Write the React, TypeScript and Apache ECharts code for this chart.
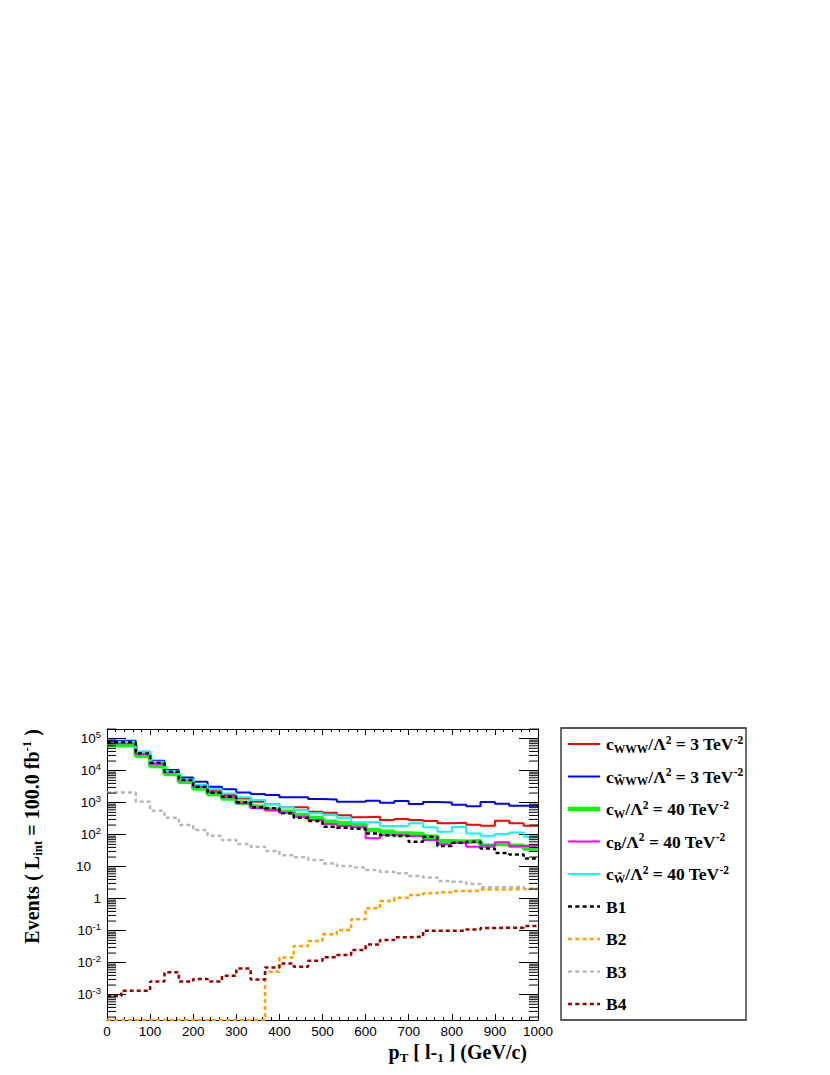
import React, { useEffect, useRef } from 'react';
import * as echarts from 'echarts';

// ---- axis ranges ----
const X_MIN = 0;
const X_MAX = 1000;
const N_BINS = 30;
const Y_MIN = 1.62e-4;
const Y_MAX = 2.01e5;

// ---- series values (30 bins of 33.3 GeV) ----
const cWWW = [71500, 71500, 34800, 17800, 9300, 5370, 3570, 2370, 1740, 1365, 1075, 887, 715, 715, 525,
  487, 402, 348, 365, 287, 309, 287, 267, 226, 237, 205, 191, 274, 226, 191];
const cWtWW = [86600, 86600, 39300, 20500, 10500, 6170, 4530, 3160, 2610, 2100, 1860, 1740, 1470, 1470, 1300,
  1270, 1075, 1075, 1155, 1000, 1128, 908, 1047, 1023, 866, 768, 1047, 933, 806, 806];
const cW = [63100, 63100, 29500, 14000, 7870, 4530, 2800, 1860, 1365, 1000, 750, 617, 525, 412, 324,
  255, 226, 200, 140, 124, 110, 105, 87, 62, 60, 63, 45, 51, 45, 37];
const cB = [71500, 71500, 32400, 16200, 8870, 5130, 3160, 2210, 1470, 955, 665, 590, 487, 365, 287,
  215, 187, 170, 77, 97, 97, 91, 68, 50, 56, 42, 45, 58, 44, 46];
const cWt = [80500, 80500, 38300, 19100, 9770, 5370, 3570, 2610, 1950, 1470, 1210, 887, 715, 590, 464,
  412, 340, 243, 243, 187, 187, 226, 170, 124, 174, 110, 93, 105, 118, 87];
const B1 = [76800, 76800, 34800, 17800, 9330, 5130, 3160, 2040, 1540, 1030, 715, 665, 464, 340, 267,
  178, 165, 154, 110, 97, 91, 60, 87, 44, 56, 60, 37, 27, 24, 18];
// 0 = empty bin (drawn at the axis minimum, as ROOT does on a log axis)
const B2 = [0, 0, 0, 0, 0, 0, 0, 0, 0, 0, 0, 0.0052, 0.0145, 0.033, 0.048,
  0.077, 0.105, 0.23, 0.5, 0.85, 1.07, 1.3, 1.47, 1.58, 1.74, 1.78, 1.95, 1.95, 2.0, 2.1];
const B3 = [2100, 2100, 1075, 563, 340, 200, 140, 93, 68, 51, 42, 31, 23, 19.6, 16.2,
  12.7, 10.5, 9.5, 7.9, 7.0, 6.2, 5.1, 4.6, 3.6, 3.4, 2.9, 2.26, 2.26, 2.37, 2.0];
const B4 = [0.00091, 0.00133, 0.00133, 0.0026, 0.005, 0.0026, 0.0031, 0.0026, 0.0039, 0.0066, 0.003, 0.0071, 0.0095, 0.0075, 0.0115,
  0.0148, 0.0174, 0.025, 0.037, 0.051, 0.062, 0.065, 0.1, 0.1, 0.1, 0.11, 0.121, 0.124, 0.124, 0.14];

const X_TICK_LABELS = ['0', '100', '200', '300', '400', '500', '600', '700', '800', '900', '1000'];

// ---- series styling ----
const SERIES = [
  { key: 'cwww', values: cWWW, color: '#ff0000', width: 2, dashed: false,
    label: '{a|c}{sub|WWW}{a|/Λ}{sup|2}{a| = 3 TeV}{sup|-2}' },
  { key: 'cwtww', values: cWtWW, color: '#0000ff', width: 2, dashed: false,
    label: '{a|c}{sub|W\u0303WW}{a|/Λ}{sup|2}{a| = 3 TeV}{sup|-2}' },
  { key: 'cw', values: cW, color: '#00ff00', width: 4.5, dashed: false,
    label: '{a|c}{sub|W}{a|/Λ}{sup|2}{a| = 40 TeV}{sup|-2}' },
  { key: 'cb', values: cB, color: '#ff00ff', width: 2, dashed: false,
    label: '{a|c}{sub|B}{a|/Λ}{sup|2}{a| = 40 TeV}{sup|-2}' },
  { key: 'cwt', values: cWt, color: '#00ffff', width: 2, dashed: false,
    label: '{a|c}{sub|W\u0303}{a|/Λ}{sup|2}{a| = 40 TeV}{sup|-2}' },
  { key: 'B1', values: B1, color: '#000000', width: 2.5, dashed: true, label: '{a|B1}' },
  { key: 'B2', values: B2, color: '#ffa000', width: 2.5, dashed: true, label: '{a|B2}' },
  { key: 'B3', values: B3, color: '#b8b8b8', width: 2.5, dashed: true, label: '{a|B3}' },
  { key: 'B4', values: B4, color: '#990000', width: 2.5, dashed: true, label: '{a|B4}' },
];

const DASH = [4, 3];

// layout
const GRID = { left: 107, top: 729, width: 431, height: 291 };
const LEG = { x: 561, y: 728, w: 185, h: 292, firstY: 744, step: 32.5, lineX0: 568, lineX1: 600, textX: 606 };

const SANS = '"Liberation Sans", Arial, Helvetica, sans-serif';
const SERIF = '"Liberation Serif", "Times New Roman", serif';

function binEdge(i: number) {
  return X_MIN + (i * (X_MAX - X_MIN)) / N_BINS;
}

function histData(values: number[]) {
  const pts: number[][] = values.map((v, i) => [binEdge(i), v > 0 ? v : Y_MIN]);
  const last = values[values.length - 1];
  pts.push([X_MAX, last > 0 ? last : Y_MIN]);
  return pts;
}

function minorLogTicks() {
  const out: number[] = [];
  for (let n = -5; n <= 6; n++) {
    for (let k = 2; k <= 9; k++) {
      const v = k * Math.pow(10, n);
      if (v > Y_MIN && v < Y_MAX) out.push(v);
    }
  }
  return out;
}

function richSet(size: number, lh: number, subSize: number, shift: number) {
  const base = { fontFamily: SERIF, fontWeight: 'bold' as const, color: '#000' };
  return {
    a: { ...base, fontSize: size, lineHeight: lh },
    sub: { ...base, fontSize: subSize, lineHeight: subSize, padding: [shift, 0, 0, 0] },
    sup: { ...base, fontSize: subSize, lineHeight: subSize, padding: [0, 0, shift, 0] },
  };
}

export default function App() {
  const ref = useRef<HTMLDivElement>(null);

  useEffect(() => {
    if (!ref.current) return;
    const chart = echarts.init(ref.current, undefined, { renderer: 'svg' });

    const axisLineStyle = { color: '#000', width: 1 };

    const yLabelFormatter = (value: number) => {
      const lg = Math.log10(value);
      const e = Math.round(lg);
      if (Math.abs(lg - e) > 0.01) return '';
      if (e === 0) return '{b|1}';
      if (e === 1) return '{t|10}';
      return `{b|10}{s|${e}}`;
    };

    const yAxisBase = {
      type: 'log' as const,
      logBase: 10,
      min: Y_MIN,
      max: Y_MAX,
      splitNumber: 10,
      axisLine: { show: true, onZero: false, lineStyle: axisLineStyle },
      axisTick: { show: true, inside: true, length: 19, lineStyle: axisLineStyle },
      splitLine: { show: false },
      minorTick: { show: false },
      minorSplitLine: { show: false },
    };

    const xAxisBase = {
      type: 'value' as const,
      min: X_MIN,
      max: X_MAX,
      interval: 100,
      axisLine: { show: true, onZero: false, lineStyle: axisLineStyle },
      axisTick: { show: true, inside: true, length: 6, lineStyle: axisLineStyle },
      minorTick: { show: true, splitNumber: 5, length: 3, lineStyle: axisLineStyle },
      splitLine: { show: false },
      minorSplitLine: { show: false },
    };

    const histSeries = SERIES.map((s) => ({
      name: s.key,
      type: 'line' as const,
      step: 'end' as const,
      data: histData(s.values),
      symbol: 'none',
      showSymbol: false,
      color: s.color,
      lineStyle: { color: s.color, width: s.width, type: s.dashed ? DASH : 'solid' },
      clip: true,
      silent: true,
      animation: false,
      xAxisIndex: 0,
      yAxisIndex: 0,
    }));

    const minorSeries = {
      type: 'custom' as const,
      silent: true,
      xAxisIndex: 0,
      yAxisIndex: 0,
      z: 5,
      data: minorLogTicks().map((v) => [X_MIN, v]),
      renderItem: (_params: any, api: any) => {
        const v = api.value(1);
        const p0 = api.coord([X_MIN, v]);
        const p1 = api.coord([X_MAX, v]);
        return {
          type: 'group',
          children: [
            { type: 'line', shape: { x1: p0[0], y1: p0[1], x2: p0[0] + 9, y2: p0[1] }, style: { stroke: '#000', lineWidth: 1 } },
            { type: 'line', shape: { x1: p1[0] - 9, y1: p1[1], x2: p1[0], y2: p1[1] }, style: { stroke: '#000', lineWidth: 1 } },
          ],
        };
      },
    };

    const legendRich = richSet(17.5, 22, 11.5, 9);
    const titleRich = richSet(20, 26, 13, 11);

    const legendGraphics: any[] = [
      {
        type: 'rect',
        shape: { x: LEG.x, y: LEG.y, width: LEG.w, height: LEG.h },
        style: { fill: '#fff', stroke: '#222', lineWidth: 1.3 },
        z: 1,
      },
    ];
    SERIES.forEach((s, i) => {
      const y = LEG.firstY + i * LEG.step;
      legendGraphics.push({
        type: 'line',
        shape: { x1: LEG.lineX0, y1: y, x2: LEG.lineX1, y2: y },
        style: { stroke: s.color, lineWidth: s.width, lineDash: s.dashed ? [4, 3.3] : null },
        z: 2,
      });
      legendGraphics.push({
        type: 'text',
        x: LEG.textX,
        y,
        style: { text: s.label, rich: legendRich, align: 'left', verticalAlign: 'middle', fill: '#000' },
        z: 2,
      });
    });

    const titleGraphics = [
      {
        type: 'text',
        x: 527,
        y: 1052,
        style: {
          text: '{a|p}{sub|T}{a| [ l-}{sub|1}{a| ] (GeV/c)}',
          rich: titleRich,
          align: 'right',
          verticalAlign: 'middle',
          fill: '#000',
        },
      },
      {
        type: 'text',
        x: 32,
        y: 729,
        rotation: Math.PI / 2,
        style: {
          text: '{a|Events ( L}{sub|int}{a| = 100.0 fb}{sup|-1}{a| )}',
          rich: titleRich,
          align: 'right',
          verticalAlign: 'middle',
          fill: '#000',
        },
      },
    ];

    chart.setOption({
      animation: false,
      backgroundColor: '#fff',
      grid: { ...GRID, containLabel: false },
      xAxis: [
        {
          ...xAxisBase,
          position: 'bottom',
          axisLabel: {
            show: true,
            margin: 4,
            color: '#000',
            fontFamily: SANS,
            fontSize: 13.5,
            formatter: (v: number) => {
              const idx = Math.round((v - X_MIN) / 100);
              return X_TICK_LABELS[idx] ?? '';
            },
          },
        },
        { ...xAxisBase, position: 'top', axisLabel: { show: false } },
      ],
      yAxis: [
        {
          ...yAxisBase,
          position: 'left',
          axisLabel: {
            show: true,
            margin: 6,
            showMinLabel: false,
            showMaxLabel: false,
            formatter: yLabelFormatter,
            rich: {
              b: { fontFamily: SANS, fontSize: 13.5, lineHeight: 18, color: '#000' },
              t: { fontFamily: SANS, fontSize: 13.5, lineHeight: 18, color: '#000', padding: [0, 10, 0, 0] },
              s: { fontFamily: SANS, fontSize: 9.5, lineHeight: 10, color: '#000', padding: [0, 0, 8, 0] },
            },
          },
        },
        { ...yAxisBase, position: 'right', axisLabel: { show: false } },
      ],
      series: [...histSeries, minorSeries],
      graphic: [...legendGraphics, ...titleGraphics],
    });

    return () => {
      chart.dispose();
    };
  }, []);

  return (
    <div
      ref={ref}
      style={{ position: 'fixed', left: 0, top: 0, width: 830, height: 1075, background: '#fff' }}
    />
  );
}
